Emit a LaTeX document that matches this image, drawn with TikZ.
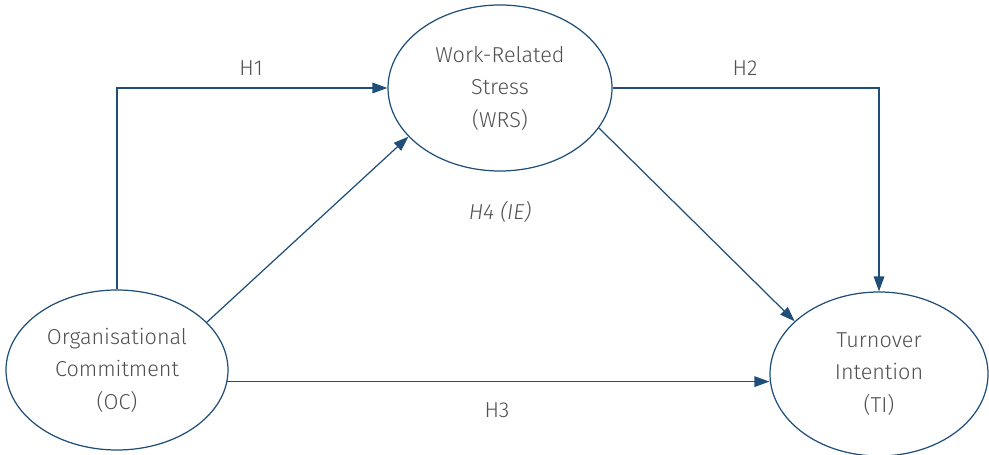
\documentclass[tikz,border=0pt]{standalone}
\usepackage{fontspec}
\setmainfont{Fira Sans}[UprightFont=* Light, ItalicFont=* Light Italic]
\usetikzlibrary{shapes.geometric,arrows.meta}
\definecolor{pathblue}{RGB}{31,78,121}
\definecolor{labelgray}{RGB}{80,80,80}
\tikzset{
    construct/.style={ellipse, draw=pathblue, line width=0.7pt, inner sep=0pt,
        align=center, text=labelgray, font=\fontsize{12.3}{18.5}\selectfont},
    path arrow/.style={draw=pathblue, line width=0.7pt,
        -{Triangle[length=8.5pt,width=6pt]}},
    hyp/.style={text=labelgray, font=\fontsize{12.3}{14}\selectfont}
}
\begin{document}
\begin{tikzpicture}[x=0.02cm, y=-0.02cm]
    \useasboundingbox (0, 0) rectangle (989, 455);
    \node[construct, minimum width=222*0.02cm, minimum height=160*0.02cm] (oc) at (117, 370) {Organisational\\Commitment\\(OC)};
    \node[construct, minimum width=224*0.02cm, minimum height=166*0.02cm] (wrs) at (500, 88) {Work-Related\\Stress\\(WRS)};
    \node[construct, minimum width=218*0.02cm, minimum height=164*0.02cm] (ti) at (879, 374) {Turnover\\Intention\\(TI)};
    \draw[path arrow] (oc.north) |- (wrs.west);
    \draw[path arrow] (wrs.east) -| (ti.north);
    \draw[path arrow] (oc.28) -- (wrs.208);
    \draw[path arrow] (wrs.338) -- (ti.148);
    \draw[path arrow] (oc.-6) -- (ti.west |- oc.-6);
    \node[hyp] (h1) at (251, 68) {H1};
    \node[hyp] (h2) at (745, 68) {H2};
    \node[hyp] (h3) at (497, 410) {H3};
    \node[hyp] (h4) at (500, 212) {\itshape H4 (IE)};
\end{tikzpicture}
\end{document}
